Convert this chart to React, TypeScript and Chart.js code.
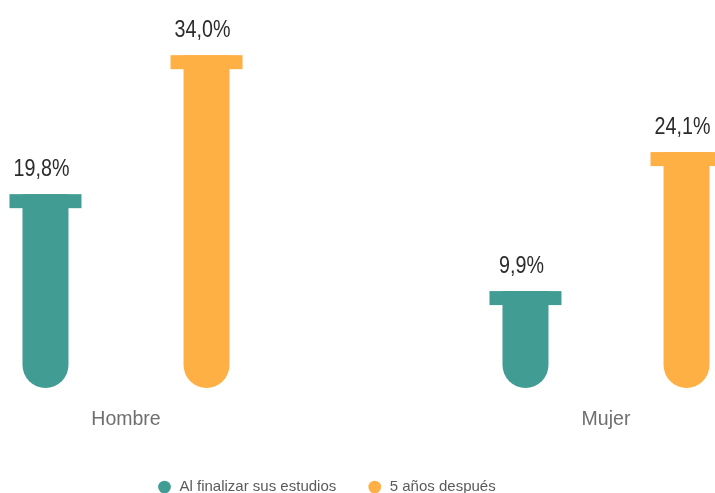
import React, { useEffect, useRef } from "react";
import { Chart, registerables } from "chart.js";

Chart.register(...registerables);

const categories = ["Hombre", "Mujer"];
const seriesNames = ["Al finalizar sus estudios", "5 años después"];
const alFinalizar = [19.8, 9.9];
const cincoAnos = [34.0, 24.1];
const colors = ["#419C94", "#FFB045"];

const FONT = "'Liberation Sans', Arial, sans-serif";

const fmt = (v: number) => v.toFixed(1).replace(".", ",") + "%";

const tubePlugin = {
  id: "tubes",
  beforeDatasetDraw(chart: any, args: any) {
    const ctx = chart.ctx;
    const meta = args.meta;
    const ds = chart.data.datasets[args.index];
    ctx.save();
    meta.data.forEach((el: any, i: number) => {
      const { x, y, base, width } = el.getProps(["x", "y", "base", "width"], true);
      const r = width / 2;
      const capW = width * 1.565;
      const capH = 14;
      ctx.fillStyle = ds.tubeColor;
      ctx.beginPath();
      ctx.moveTo(x - r, y);
      ctx.lineTo(x + r, y);
      ctx.lineTo(x + r, base - r);
      ctx.arc(x, base - r, r, 0, Math.PI, false);
      ctx.closePath();
      ctx.fill();
      ctx.fillRect(x - capW / 2, y, capW, capH);
      // value label, narrow face
      ctx.save();
      ctx.translate(x - 4, y - 18);
      ctx.scale(0.82, 1);
      ctx.fillStyle = "#2b2b2b";
      ctx.font = `24px ${FONT}`;
      ctx.textAlign = "center";
      ctx.textBaseline = "alphabetic";
      ctx.fillText(fmt(ds.data[i]), 0, 0);
      ctx.restore();
    });
    ctx.restore();
    return false;
  },
};

export default function App() {
  const ref = useRef<HTMLCanvasElement>(null);
  useEffect(() => {
    if (!ref.current) return;
    const chart = new Chart(ref.current, {
      type: "bar",
      data: {
        labels: categories,
        datasets: [
          {
            label: seriesNames[0],
            data: alFinalizar,
            backgroundColor: colors[0],
            borderColor: colors[0],
            tubeColor: colors[0],
          } as any,
          {
            label: seriesNames[1],
            data: cincoAnos,
            backgroundColor: colors[1],
            borderColor: colors[1],
            tubeColor: colors[1],
          } as any,
        ],
      },
      options: {
        animation: false,
        responsive: true,
        maintainAspectRatio: false,
        layout: { padding: { left: 126, right: 109, top: 16, bottom: -11.5 } },
        datasets: {
          bar: { categoryPercentage: 0.671, barPercentage: 0.2857 },
        },
        scales: {
          x: {
            offset: false,
            grid: { display: false, drawTicks: false, offset: false },
            border: { display: false },
            ticks: {
              padding: 20,
              color: "#6e6e6e",
              font: { family: FONT, size: 19.5 },
            },
            afterFit: (scale: any) => {
              scale.height = 60.5;
            },
          },
          y: {
            display: false,
            min: 0,
            max: 38,
          },
        },
        plugins: {
          legend: {
            position: "bottom",
            align: "start",
            labels: {
              usePointStyle: true,
              pointStyle: "circle",
              boxWidth: 15,
              boxHeight: 9,
              padding: 31,
              color: "#5a5a5a",
              font: { family: FONT, size: 15 },
            },
          },
          tooltip: { enabled: false },
        },
      },
      plugins: [tubePlugin],
    });
    return () => chart.destroy();
  }, []);
  return (
    <div style={{ position: "fixed", left: 0, top: 0, width: 715, height: 493 }}>
      <canvas ref={ref} />
    </div>
  );
}
